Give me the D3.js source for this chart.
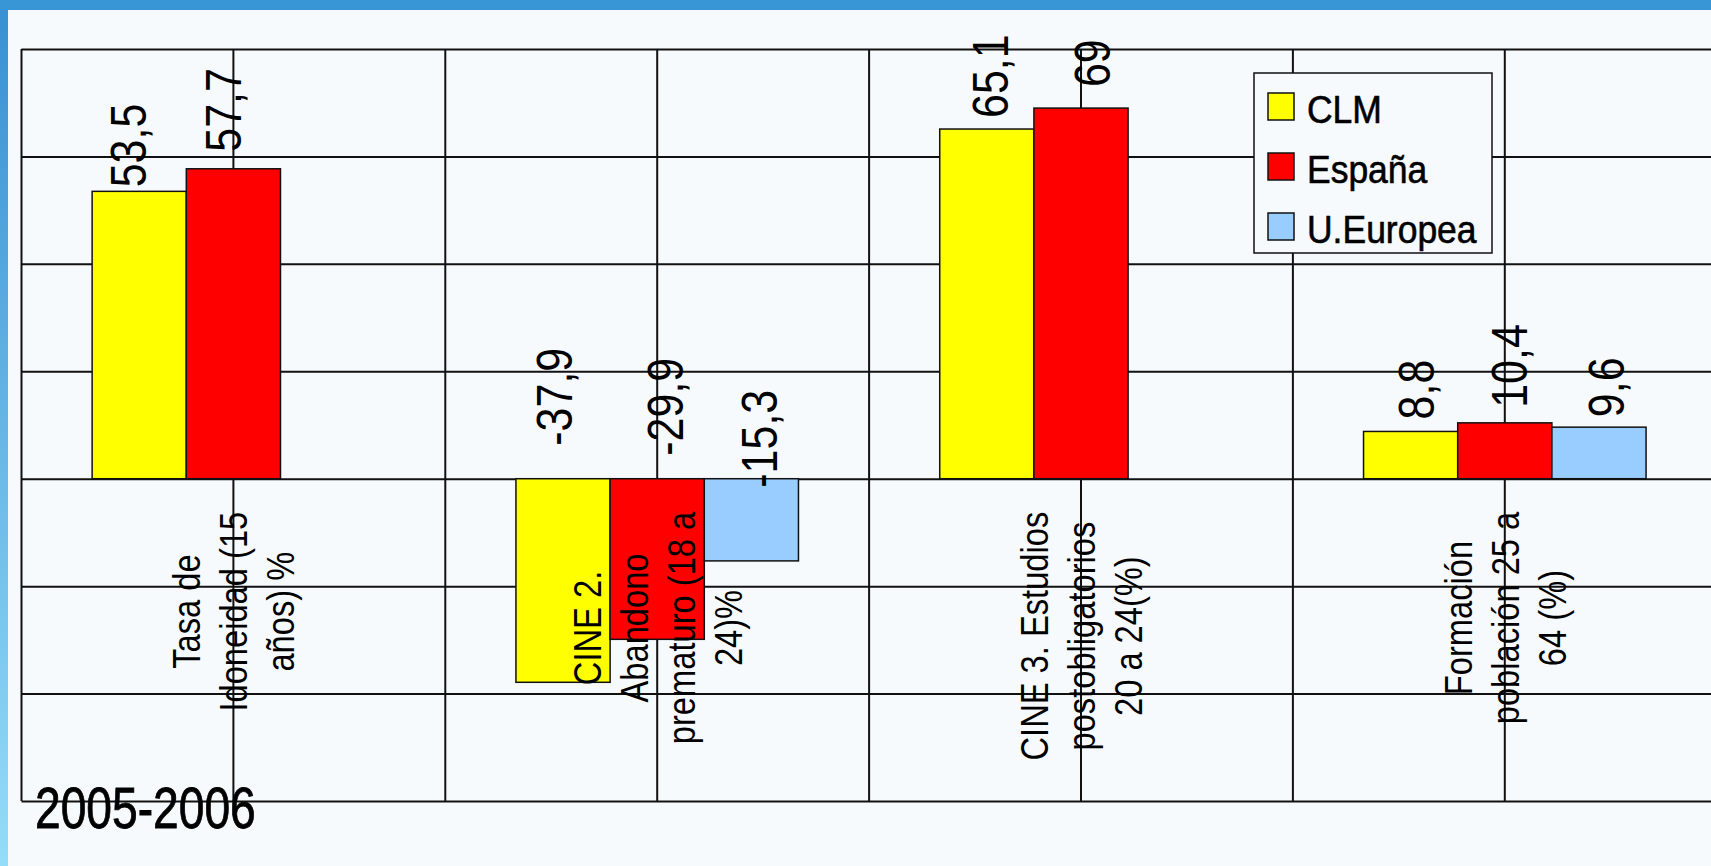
<!DOCTYPE html>
<html><head><meta charset="utf-8">
<script src="https://cdn.jsdelivr.net/npm/d3@7/dist/d3.min.js"></script>
<style>
body{margin:0;background:#f7fafd;overflow:hidden}
svg{display:block}
text{font-family:"Liberation Sans",Arial,sans-serif;fill:#000}
</style>
</head><body><svg id="c" width="1711" height="866"></svg>
<script>
// ---- data ----
const categoryLines = [
  ["Tasa de", "Idoneidad (15", "años) %"],
  ["CINE 2.", "Abandono", "prematuro (18 a", "24)%"],
  ["CINE 3. Estudios", "postobligatorios", "20 a 24(%)"],
  ["Formación", "población 25 a", "64 (%)"]
];
const seriesNames = ["CLM", "España", "U.Europea"];
const clm    = [53.5, -37.9, 65.1, 8.8];
const espana = [57.7, -29.9, 69, 10.4];
const ue     = [null, -15.3, null, 9.6];
const yTicks = [-60, -40, -20, 0, 20, 40, 60, 80];
const periodLabel = "2005-2006";

// ---- styling ----
const colors = ["#ffff00", "#ff0000", "#99ccff"];
const W = 1711, H = 866;
const plotLeft = 21.5, plotRight = 1716.7, plotTop = 49, plotBottom = 801;
const narrow = 0.86; // horizontal condensing to mimic a narrow typeface
// label nudges [dx from bar centre, gap above bar top (or zero line for negatives)]
const labelNudge = {
  "0-0": [7, 4], "0-1": [7.6, 17],
  "1-0": [9, 33], "1-1": [26, 23], "1-2": [26, -9],
  "2-0": [21, 11], "2-1": [29, 21],
  "3-0": [23, 12], "3-1": [22, 15], "3-2": [25, 10]
};

const series = [clm, espana, ue];
const svg = d3.select("#c");

// background & frame decoration
svg.append("rect").attr("width", W).attr("height", H).attr("fill", "#f7fafd");
const defs = svg.append("defs");
const lg = defs.append("linearGradient").attr("id", "lg").attr("x1", 0).attr("y1", 0).attr("x2", 0).attr("y2", 1);
lg.append("stop").attr("offset", "0%").attr("stop-color", "#3890d2");
lg.append("stop").attr("offset", "100%").attr("stop-color", "#95dcf8");
svg.append("rect").attr("x", 0).attr("y", 0).attr("width", 8).attr("height", H).attr("fill", "url(#lg)");
svg.append("rect").attr("x", 0).attr("y", 0).attr("width", W).attr("height", 10).attr("fill", "#3896d6");

// scales
const cats = d3.range(categoryLines.length);
const x0 = d3.scaleBand().domain(cats).range([plotLeft, plotRight]).padding(0);
const bw = x0.bandwidth();
const x1 = d3.scaleBand().domain(d3.range(series.length)).range([bw / 6, bw * 5 / 6]).padding(0);
const y = d3.scaleLinear().domain([d3.min(yTicks), d3.max(yTicks)]).range([plotBottom, plotTop]);

// horizontal gridlines via axis
const gAxis = svg.append("g").attr("transform", `translate(${plotLeft},0)`)
  .call(d3.axisLeft(y).tickValues(yTicks).tickSize(-(W - plotLeft + 10)).tickFormat(""));
gAxis.select(".domain").remove();
gAxis.selectAll(".tick line").attr("stroke", "#111").attr("stroke-width", 2);

// vertical gridlines (category boundaries and centres)
const vx = [];
cats.forEach(i => { vx.push(x0(i)); vx.push(x0(i) + bw / 2); });
vx.push(plotRight);
svg.append("g").selectAll("line").data(vx).join("line")
  .attr("x1", d => d).attr("x2", d => d).attr("y1", plotTop).attr("y2", plotBottom)
  .attr("stroke", "#111").attr("stroke-width", 2);

// bars
const barData = [];
series.forEach((s, si) => s.forEach((v, ci) => { if (v !== null) barData.push({ si, ci, v }); }));
svg.append("g").selectAll("rect").data(barData).join("rect")
  .attr("x", d => x0(d.ci) + x1(d.si))
  .attr("width", x1.bandwidth())
  .attr("y", d => y(Math.max(0, d.v)))
  .attr("height", d => Math.abs(y(d.v) - y(0)))
  .attr("fill", d => colors[d.si])
  .attr("stroke", "#111").attr("stroke-width", 1.5);

// value labels
const fmt = v => String(v).replace(".", ",");
svg.append("g").selectAll("text").data(barData).join("text")
  .attr("transform", d => {
    const nd = labelNudge[d.ci + "-" + d.si] || [20, 10];
    const xc = x0(d.ci) + x1(d.si) + x1.bandwidth() / 2 + nd[0];
    const yb = (d.v >= 0 ? y(d.v) : y(0)) - nd[1];
    return `translate(${xc},${yb}) rotate(-90) scale(${narrow},1)`;
  })
  .attr("text-anchor", "start")
  .style("font-size", "50px")
  .text(d => fmt(d.v));

// category labels
const lineH = 47;
cats.forEach(ci => {
  const lines = categoryLines[ci];
  const g = svg.append("g");
  const xc = x0(ci) + bw / 2;
  const texts = g.selectAll("text").data(lines).join("text")
    .style("font-size", "38px").attr("text-anchor", "middle").text(d => d);
  let maxLen = 0;
  texts.each(function () { maxLen = Math.max(maxLen, this.getComputedTextLength() * narrow); });
  const ymid = y(0) + 33 + maxLen / 2;
  texts.attr("transform", (d, i) => `translate(${xc + (i - (lines.length - 1) / 2) * lineH + 14},${ymid}) rotate(-90) scale(${narrow},1)`);
});

// legend
const lgX = 1254, lgY = 73;
const leg = svg.append("g").attr("transform", `translate(${lgX},${lgY})`);
leg.append("rect").attr("width", 238).attr("height", 180).attr("fill", "#f7fafd").attr("stroke", "#111").attr("stroke-width", 1.5);
const items = leg.selectAll("g.it").data(seriesNames).join("g").attr("class", "it")
  .attr("transform", (d, i) => `translate(0,${i * 60})`);
items.append("rect").attr("x", 14).attr("y", 20).attr("width", 26).attr("height", 27)
  .attr("fill", (d, i) => colors[i]).attr("stroke", "#111").attr("stroke-width", 1.5);
items.append("text").attr("transform", "translate(53,50) scale(0.91,1)")
  .style("font-size", "39px").attr("stroke", "#000").attr("stroke-width", 0.6).text(d => d);

// period label
svg.append("text").attr("transform", "translate(35,828) scale(0.81,1)")
  .style("font-size", "57px").attr("stroke", "#000").attr("stroke-width", 0.8).text(periodLabel);
</script>
</body></html>
